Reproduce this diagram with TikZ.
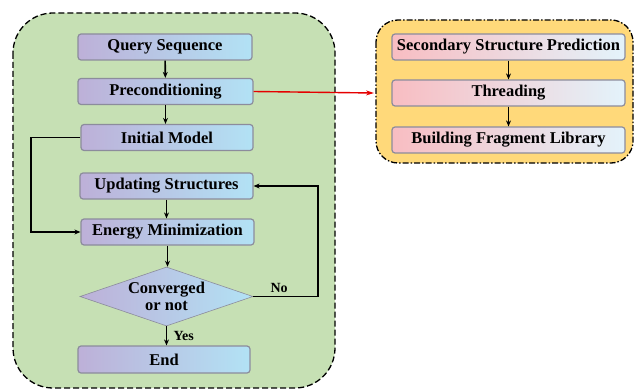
\documentclass[tikz,border=0pt]{standalone}
\usepackage{fontspec}
\setmainfont{Liberation Serif}
\usepackage{xcolor}
\usepackage{tikz}
\usetikzlibrary{arrows.meta,shapes.geometric}

\definecolor{greenbg}{HTML}{C6E0B4}
\definecolor{yellowbg}{HTML}{FFD97A}
\definecolor{lavend}{HTML}{BDB0D8}
\definecolor{skyb}{HTML}{B2E2F5}
\definecolor{pinkb}{HTML}{F8BDC2}
\definecolor{paleb}{HTML}{E3F3FB}
\definecolor{edgegray}{HTML}{8C8C9C}

\tikzset{
  stage/.style={draw=edgegray, line width=1.2pt, rounded corners=3pt,
    left color=lavend, right color=skyb, minimum height=26pt,
    font=\bfseries\fontsize{16.5}{17}\selectfont, inner sep=0pt},
  fragstage/.style={stage, left color=pinkb, right color=paleb,
    minimum width=233pt},
  decide/.style={diamond, draw=edgegray, line width=0.6pt,
    left color=lavend, right color=skyb, aspect=2.9, inner sep=0pt,
    minimum width=173pt, minimum height=59pt, align=center,
    font=\bfseries\fontsize{16.5}{17}\selectfont},
  flow/.style={-{Stealth[length=6pt,width=5pt]}, line width=1.6pt},
  lbl/.style={font=\bfseries\fontsize{14}{16}\selectfont}
}

\begin{document}
\begin{tikzpicture}[x=1pt, y=-1pt]
\useasboundingbox (0,0) rectangle (636,390);
% containers
\filldraw[fill=greenbg, draw=black, line width=1.3pt, dash pattern=on 6pt off 3pt,
  rounded corners=40pt] (13,13) rectangle (335,388);
\filldraw[fill=yellowbg, draw=black, line width=1.3pt,
  dash pattern=on 6pt off 2pt on 1.5pt off 2pt, rounded corners=22pt]
  (376,20) rectangle (633,163);

% main loop
\node[stage, minimum width=174pt] (query) at (165,47) {Query Sequence};
\node[stage, minimum width=175pt] (precond) at (165.5,91.5) {Preconditioning};
\node[stage, minimum width=172pt] (init) at (167,137.5) {Initial Model};
\node[stage, minimum width=173pt] (update) at (166.5,186) {Updating Structures};
\node[stage, minimum width=173pt] (energy) at (167.5,232) {Energy Minimization};
\node[decide] (conv) at (166.5,296.5) {Converged\\or not};
\node[stage, minimum width=172pt, minimum height=27pt] (endn) at (164,359.5) {End};

% fragment library
\node[fragstage] (ssp) at (508.5,47) {Secondary Structure Prediction};
\node[fragstage] (thread) at (508.5,93) {Threading};
\node[fragstage] (frag) at (508.5,140) {Building Fragment Library};
\coordinate (fraglib) at (374,93);

\draw[flow] (query) -- (precond);
\draw[flow] (precond) -- (precond |- init.north);
\draw[flow] (update) -- (energy.north -| update);
\draw[flow] (energy) -- (conv.north -| energy);
\draw[flow] (conv) -- node[lbl, right, xshift=3pt] {Yes} (endn.north -| conv);
\draw[flow] (init.west) -- (31,137.5) -- (31,232) -- (energy.west);
\draw[flow] (conv.east) -- node[lbl, above, pos=0.4] {No} (318,296.5)
  -- (318,186) -- (update.east);
\draw[flow] (ssp) -- (thread.north -| ssp);
\draw[flow] (thread) -- (frag);
\draw[-{Stealth[length=8pt,width=5pt]}, red!90!black, line width=1.4pt]
  (precond.east) -- (fraglib);
\end{tikzpicture}
\end{document}
